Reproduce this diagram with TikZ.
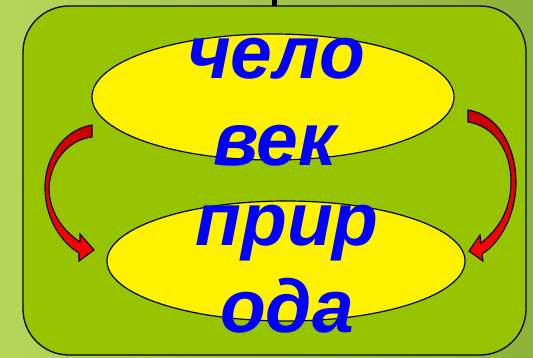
\documentclass[tikz,border=0pt]{standalone}
\usepackage{fontspec}
\setmainfont{Liberation Sans}
\usetikzlibrary{shapes.geometric}
\definecolor{bgL}{HTML}{B4D75A}
\definecolor{bgR}{HTML}{8CB338}
\definecolor{boxG}{HTML}{96C400}
\definecolor{darkred}{HTML}{C80000}
\tikzset{
  oval/.style={ellipse, draw=black, line width=1.2pt, fill=yellow, inner sep=0pt},
  word/.style={font=\fontsize{75}{75}\selectfont\bfseries\itshape, text=blue, anchor=base, inner sep=0pt},
  blockarrow/.style={draw=black, line width=1.1pt, top color=darkred, bottom color=red, middle color=red!90!black},
}
\begin{document}
\begin{tikzpicture}[x=1pt,y=-1pt]
\useasboundingbox (0,0) rectangle (533,357);
\shade[shading=axis, shading angle=-60, left color=bgL, right color=bgR] (0,0) rectangle (533,357);
\draw[line width=5pt] (274,0) -- (274,7);
\draw[line width=1.3pt, fill=boxG, rounded corners=46pt] (23,6) rectangle (526,355);
\node[oval, minimum width=362pt, minimum height=126pt] (top) at (273,97) {};
\node[oval, minimum width=358pt, minimum height=120pt] (bot) at (286,261) {};
% left arrow
\path[blockarrow] (92,125) .. controls (62,130) and (44,160) .. (45,190)
  .. controls (46,220) and (62,243) .. (79,253) -- (79,261) -- (94,250) -- (80,234) -- (80,242)
  .. controls (62,230) and (50,212) .. (49,190)
  .. controls (49,165) and (66,140) .. (92,137) -- cycle;
% right arrow
\path[blockarrow] (468,110) .. controls (500,115) and (516,150) .. (516,182)
  .. controls (516,215) and (500,243) .. (482,254) -- (483,261) -- (469,251) -- (480,235) -- (481,243)
  .. controls (498,230) and (511,210) .. (511,182)
  .. controls (511,150) and (494,126) .. (468,122) -- cycle;
\node[word] (w1) at (276,78) {чело};
\node[word] (w2) at (275,165) {век};
\node[word] (w3) at (287,245) {прир};
\node[word] (w4) at (287,332) {ода};
\end{tikzpicture}
\end{document}
